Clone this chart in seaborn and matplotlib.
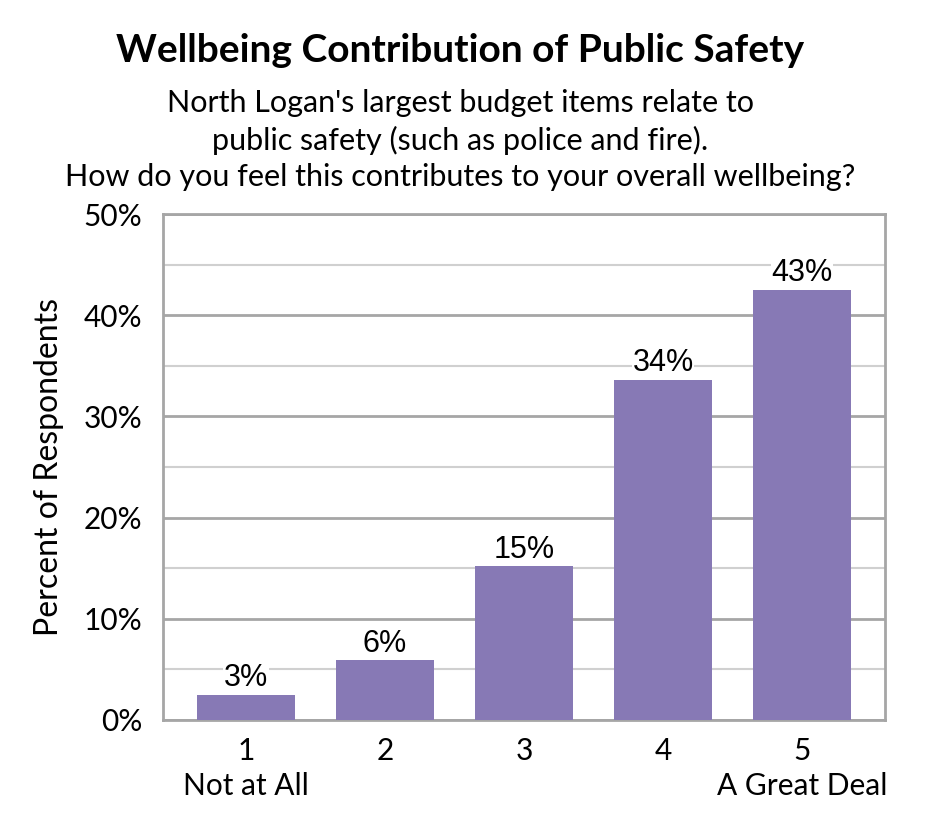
import matplotlib
matplotlib.use("Agg")
import matplotlib.pyplot as plt
import seaborn as sns
import pandas as pd
from matplotlib.ticker import MultipleLocator, FuncFormatter

categories = ["1\nNot at All", "2", "3", "4", "5\nA Great Deal"]
values = [2.5, 5.9, 15.2, 33.6, 42.5]
labels = ["3%", "6%", "15%", "34%", "43%"]

title = "Wellbeing Contribution of Public Safety"
subtitle = ("North Logan's largest budget items relate to\n"
            "public safety (such as police and fire).\n"
            "How do you feel this contributes to your overall wellbeing?")
ylabel = "Percent of Respondents"

sns.set_theme(style="white")
plt.rcParams["font.family"] = ["Lato", "DejaVu Sans"]
plt.rcParams["text.color"] = "black"
plt.rcParams["axes.labelcolor"] = "black"

df = pd.DataFrame({"cat": categories, "val": values})

fig = plt.figure(figsize=(9.45, 8.4), dpi=100)
ax = fig.add_axes([0.1725, 0.1429, 0.764, 0.6023])

sns.barplot(data=df, x="cat", y="val", color="#8779b5", saturation=1,
            width=0.70, linewidth=0, ax=ax, zorder=3)

ax.set_xlim(-0.597, 4.597)
ax.set_ylim(0, 50)
ax.yaxis.set_major_locator(MultipleLocator(10))
ax.yaxis.set_minor_locator(MultipleLocator(5))
ax.yaxis.set_major_formatter(FuncFormatter(lambda v, p: f"{v:.0f}%"))
ax.grid(which="major", axis="y", color="#a6a6a6", linewidth=2, zorder=0)
ax.grid(which="minor", axis="y", color="#d0d0d0", linewidth=1.5, zorder=0)
ax.set_axisbelow(True)
for s in ax.spines.values():
    s.set_visible(True)
    s.set_color("#a6a6a6")
    s.set_linewidth(2)
ax.tick_params(axis="both", which="both", length=0, labelsize=21.5, colors="black")
ax.tick_params(axis="y", pad=15)
ax.tick_params(axis="x", pad=12)
for t in ax.get_xticklabels():
    t.set_linespacing(1.3)
ax.set_xlabel("")
ax.set_ylabel(ylabel, fontsize=23, labelpad=14)

for i, (v, lab) in enumerate(zip(values, labels)):
    ax.text(i, v + 0.15, lab, ha="center", va="bottom", fontsize=22,
            family=["Liberation Sans"], zorder=5,
            bbox=dict(facecolor="white", edgecolor="none", pad=0.5))

fig.text(0.487, 0.940, title, ha="center", va="center", fontsize=28,
         fontweight="bold")
fig.text(0.487, 0.833, subtitle, ha="center", va="center", fontsize=22,
         linespacing=1.35)

fig.savefig("out.png", dpi=100, facecolor="white")
